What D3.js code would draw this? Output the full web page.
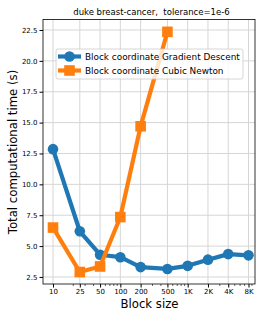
<!DOCTYPE html>
<html>
<head>
<meta charset="utf-8">
<script src="https://cdn.jsdelivr.net/npm/d3@7"></script>
<style>
body { margin: 0; background: #fff; }
text { font-family: "DejaVu Sans", sans-serif; white-space: pre; }
</style>
</head>
<body>
<div class="chart"></div>
<script>
var w = 266;
var h = 319;

var blockSizes = [10, 25, 50, 100, 200, 500, 1000, 2000, 4000, 8000];
var tickLabels = ["10", "25", "50", "100", "200", "500", "1K", "2K", "4K", "8K"];
var gdTimes = [12.85, 6.2, 4.3, 4.1, 3.3, 3.15, 3.4, 3.9, 4.35, 4.25];
var cnSizes = [10, 25, 50, 100, 200, 500];
var cnTimes = [6.5, 2.9, 3.35, 7.35, 14.7, 22.35];
var yTicks = [2.5, 5.0, 7.5, 10.0, 12.5, 15.0, 17.5, 20.0, 22.5];

var pL = 43, pR = 255, pT = 19.5, pB = 284;

// log x, 10 -> 53px, 8000 -> 248.5px
var perDecade = (248.5 - 53) / Math.log10(800);
var xScale = d3.scaleLog()
    .domain([10 / Math.pow(10, (53 - pL) / perDecade), 8000 * Math.pow(10, (pR - 248.5) / perDecade)])
    .range([pL, pR]);

var yScale = d3.scaleLinear()
    .domain([1.93, 23.35])
    .range([pB, pT]);

var svg = d3.select(".chart")
    .append("svg")
    .attr("width", w)
    .attr("height", h);

// grid
svg.append("g")
    .selectAll("line")
    .data(blockSizes)
    .enter()
    .append("line")
    .attr("x1", function(d) { return xScale(d); })
    .attr("x2", function(d) { return xScale(d); })
    .attr("y1", pT)
    .attr("y2", pB)
    .attr("stroke", "#d6d6d6")
    .attr("stroke-width", 1);

svg.append("g")
    .selectAll("line")
    .data(yTicks)
    .enter()
    .append("line")
    .attr("x1", pL)
    .attr("x2", pR)
    .attr("y1", function(d) { return yScale(d); })
    .attr("y2", function(d) { return yScale(d); })
    .attr("stroke", "#d6d6d6")
    .attr("stroke-width", 1);

// axes
var xAxis = d3.axisBottom(xScale)
    .tickValues(blockSizes)
    .tickFormat(function(d, i) { return tickLabels[i]; })
    .tickSize(3.5)
    .tickPadding(2);

var minorTicks = [];
[10, 100, 1000].forEach(function(dec) {
    for (var k = 2; k <= 9; k++) minorTicks.push(k * dec);
});
minorTicks = minorTicks.filter(function(d) {
    return d < xScale.domain()[1] && blockSizes.indexOf(d) < 0;
});

var gx = svg.append("g")
    .attr("transform", "translate(0," + pB + ")")
    .call(xAxis);
gx.select(".domain").remove();
gx.selectAll("text").attr("font-size", 7).attr("fill", "#000");

svg.append("g")
    .selectAll("line")
    .data(minorTicks)
    .enter()
    .append("line")
    .attr("x1", function(d) { return xScale(d); })
    .attr("x2", function(d) { return xScale(d); })
    .attr("y1", pB)
    .attr("y2", pB + 2)
    .attr("stroke", "#000")
    .attr("stroke-width", 0.6);

var yAxis = d3.axisLeft(yScale)
    .tickValues(yTicks)
    .tickFormat(d3.format(".1f"))
    .tickSize(3.5)
    .tickPadding(2);

var gy = svg.append("g")
    .attr("transform", "translate(" + pL + ",0)")
    .call(yAxis);
gy.select(".domain").remove();
gy.selectAll("text").attr("font-size", 7).attr("fill", "#000");

// lines
var line = d3.line()
    .x(function(d) { return xScale(d[0]); })
    .y(function(d) { return yScale(d[1]); });

var gdData = d3.zip(blockSizes, gdTimes);
var cnData = d3.zip(cnSizes, cnTimes);

svg.append("path")
    .datum(gdData)
    .attr("d", line)
    .attr("fill", "none")
    .attr("stroke", "#1f77b4")
    .attr("stroke-width", 4.2)
    .attr("stroke-linejoin", "round");

svg.selectAll("circle.gd")
    .data(gdData)
    .enter()
    .append("circle")
    .attr("class", "gd")
    .attr("cx", function(d) { return xScale(d[0]); })
    .attr("cy", function(d) { return yScale(d[1]); })
    .attr("r", 5.3)
    .attr("fill", "#1f77b4");

svg.append("path")
    .datum(cnData)
    .attr("d", line)
    .attr("fill", "none")
    .attr("stroke", "#ff7f0e")
    .attr("stroke-width", 4.2)
    .attr("stroke-linejoin", "round");

svg.selectAll("rect.cn")
    .data(cnData)
    .enter()
    .append("rect")
    .attr("class", "cn")
    .attr("x", function(d) { return xScale(d[0]) - 5.3; })
    .attr("y", function(d) { return yScale(d[1]) - 5.3; })
    .attr("width", 10.6)
    .attr("height", 10.6)
    .attr("fill", "#ff7f0e");

// frame
svg.append("rect")
    .attr("x", pL)
    .attr("y", pT)
    .attr("width", pR - pL)
    .attr("height", pB - pT)
    .attr("fill", "none")
    .attr("stroke", "#000")
    .attr("stroke-width", 0.8);

// legend
var lg = svg.append("g").attr("transform", "translate(56,49)");
lg.append("rect")
    .attr("width", 187)
    .attr("height", 30)
    .attr("rx", 2)
    .attr("fill", "#fff")
    .attr("fill-opacity", 0.8)
    .attr("stroke", "#cccccc")
    .attr("stroke-width", 0.8);

var legendItems = [
    { label: "Block coordinate Gradient Descent", color: "#1f77b4", shape: "circle" },
    { label: "Block coordinate Cubic Newton", color: "#ff7f0e", shape: "square" }
];

legendItems.forEach(function(d, i) {
    var y = 7.5 + i * 14;
    lg.append("line")
        .attr("x1", 2)
        .attr("x2", 25)
        .attr("y1", y)
        .attr("y2", y)
        .attr("stroke", d.color)
        .attr("stroke-width", 4.2);
    if (d.shape === "circle") {
        lg.append("circle").attr("cx", 13.5).attr("cy", y).attr("r", 5.3).attr("fill", d.color);
    } else {
        lg.append("rect").attr("x", 8.2).attr("y", y - 5.3).attr("width", 10.6).attr("height", 10.6).attr("fill", d.color);
    }
    lg.append("text")
        .attr("x", 29)
        .attr("y", y)
        .attr("dy", "0.35em")
        .attr("font-size", 8.9)
        .text(d.label);
});

// titles
svg.append("text")
    .attr("x", 151.5)
    .attr("y", 15)
    .attr("text-anchor", "middle")
    .attr("font-size", 8.5)
    .text("duke breast-cancer,  tolerance=1e-6");

svg.append("text")
    .attr("x", 149.5)
    .attr("y", 308)
    .attr("text-anchor", "middle")
    .attr("font-size", 11.7)
    .text("Block size");

svg.append("text")
    .attr("transform", "translate(17,152) rotate(-90)")
    .attr("text-anchor", "middle")
    .attr("font-size", 11.7)
    .text("Total computational time (s)");
</script>
</body>
</html>
